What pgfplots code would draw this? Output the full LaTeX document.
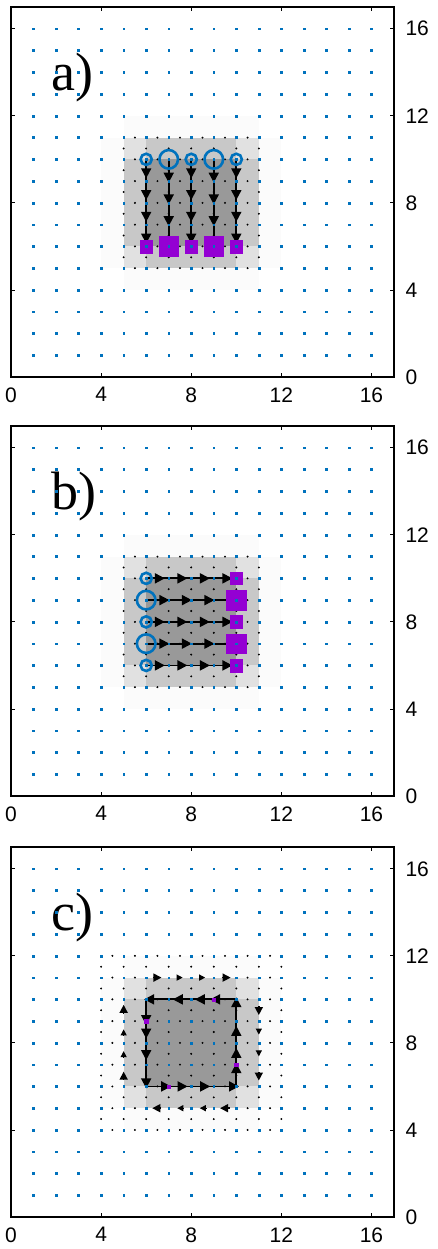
\documentclass[border=0pt]{standalone}
\usepackage{fontspec}
\setmainfont{Liberation Sans}
\newfontfamily\seriffont{Liberation Serif}
\usepackage{pgfplots}
\pgfplotsset{compat=1.18}
\usepackage{pgfplotstable}
\usetikzlibrary{arrows.meta}
\definecolor{mblue}{HTML}{0072BD}
\definecolor{mpurple}{HTML}{9400D3}
\definecolor{ga}{HTML}{999999}
\definecolor{gb}{HTML}{C8C8C8}
\definecolor{gc}{HTML}{E1E1E1}
\definecolor{gd}{HTML}{FBFBFB}

% integer lattice points (blue)
\pgfplotstableread[row sep=\\]{
x y\\
1 1\\1 2\\1 3\\1 4\\1 5\\1 6\\1 7\\1 8\\1 9\\1 10\\1 11\\1 12\\1 13\\1 14\\1 15\\1 16\\
2 1\\2 2\\2 3\\2 4\\2 5\\2 6\\2 7\\2 8\\2 9\\2 10\\2 11\\2 12\\2 13\\2 14\\2 15\\2 16\\
3 1\\3 2\\3 3\\3 4\\3 5\\3 6\\3 7\\3 8\\3 9\\3 10\\3 11\\3 12\\3 13\\3 14\\3 15\\3 16\\
4 1\\4 2\\4 3\\4 4\\4 5\\4 6\\4 7\\4 8\\4 9\\4 10\\4 11\\4 12\\4 13\\4 14\\4 15\\4 16\\
5 1\\5 2\\5 3\\5 4\\5 5\\5 6\\5 7\\5 8\\5 9\\5 10\\5 11\\5 12\\5 13\\5 14\\5 15\\5 16\\
6 1\\6 2\\6 3\\6 4\\6 5\\6 6\\6 7\\6 8\\6 9\\6 10\\6 11\\6 12\\6 13\\6 14\\6 15\\6 16\\
7 1\\7 2\\7 3\\7 4\\7 5\\7 6\\7 7\\7 8\\7 9\\7 10\\7 11\\7 12\\7 13\\7 14\\7 15\\7 16\\
8 1\\8 2\\8 3\\8 4\\8 5\\8 6\\8 7\\8 8\\8 9\\8 10\\8 11\\8 12\\8 13\\8 14\\8 15\\8 16\\
9 1\\9 2\\9 3\\9 4\\9 5\\9 6\\9 7\\9 8\\9 9\\9 10\\9 11\\9 12\\9 13\\9 14\\9 15\\9 16\\
10 1\\10 2\\10 3\\10 4\\10 5\\10 6\\10 7\\10 8\\10 9\\10 10\\10 11\\10 12\\10 13\\10 14\\10 15\\10 16\\
11 1\\11 2\\11 3\\11 4\\11 5\\11 6\\11 7\\11 8\\11 9\\11 10\\11 11\\11 12\\11 13\\11 14\\11 15\\11 16\\
12 1\\12 2\\12 3\\12 4\\12 5\\12 6\\12 7\\12 8\\12 9\\12 10\\12 11\\12 12\\12 13\\12 14\\12 15\\12 16\\
13 1\\13 2\\13 3\\13 4\\13 5\\13 6\\13 7\\13 8\\13 9\\13 10\\13 11\\13 12\\13 13\\13 14\\13 15\\13 16\\
14 1\\14 2\\14 3\\14 4\\14 5\\14 6\\14 7\\14 8\\14 9\\14 10\\14 11\\14 12\\14 13\\14 14\\14 15\\14 16\\
15 1\\15 2\\15 3\\15 4\\15 5\\15 6\\15 7\\15 8\\15 9\\15 10\\15 11\\15 12\\15 13\\15 14\\15 15\\15 16\\
16 1\\16 2\\16 3\\16 4\\16 5\\16 6\\16 7\\16 8\\16 9\\16 10\\16 11\\16 12\\16 13\\16 14\\16 15\\16 16\\
}\gridpts

% edge midpoints with (near) zero field (black dots)
\pgfplotstableread[row sep=\\]{
x y\\
5 5.5\\5 6.5\\5 7.5\\5 8.5\\5 9.5\\5 10.5\\
6 5.5\\6 6.5\\6 7.5\\6 8.5\\6 9.5\\6 10.5\\
7 5.5\\7 6.5\\7 7.5\\7 8.5\\7 9.5\\7 10.5\\
8 5.5\\8 6.5\\8 7.5\\8 8.5\\8 9.5\\8 10.5\\
9 5.5\\9 6.5\\9 7.5\\9 8.5\\9 9.5\\9 10.5\\
10 5.5\\10 6.5\\10 7.5\\10 8.5\\10 9.5\\10 10.5\\
11 5.5\\11 6.5\\11 7.5\\11 8.5\\11 9.5\\11 10.5\\
5.5 5\\5.5 6\\5.5 7\\5.5 8\\5.5 9\\5.5 10\\5.5 11\\
6.5 5\\6.5 6\\6.5 7\\6.5 8\\6.5 9\\6.5 10\\6.5 11\\
7.5 5\\7.5 6\\7.5 7\\7.5 8\\7.5 9\\7.5 10\\7.5 11\\
8.5 5\\8.5 6\\8.5 7\\8.5 8\\8.5 9\\8.5 10\\8.5 11\\
9.5 5\\9.5 6\\9.5 7\\9.5 8\\9.5 9\\9.5 10\\9.5 11\\
10.5 5\\10.5 6\\10.5 7\\10.5 8\\10.5 9\\10.5 10\\10.5 11\\
}\edgepts

\pgfplotstableread[row sep=\\]{
x y\\
4 4.5\\4 5.5\\4 6.5\\4 7.5\\4 8.5\\4 9.5\\4 10.5\\4 11.5\\
12 4.5\\12 5.5\\12 6.5\\12 7.5\\12 8.5\\12 9.5\\12 10.5\\12 11.5\\
5 4.5\\6 4.5\\7 4.5\\8 4.5\\9 4.5\\10 4.5\\11 4.5\\
5 11.5\\6 11.5\\7 11.5\\8 11.5\\9 11.5\\10 11.5\\11 11.5\\
4.5 4\\4.5 5\\4.5 6\\4.5 7\\4.5 8\\4.5 9\\4.5 10\\4.5 11\\4.5 12\\
11.5 4\\11.5 5\\11.5 6\\11.5 7\\11.5 8\\11.5 9\\11.5 10\\11.5 11\\11.5 12\\
5.5 4\\6.5 4\\7.5 4\\8.5 4\\9.5 4\\10.5 4\\
5.5 12\\6.5 12\\7.5 12\\8.5 12\\9.5 12\\10.5 12\\
}\edgeptsc

% panel a arrows (downwards)
\pgfplotstableread[row sep=\\]{
x y u v\\
6 10 0 -0.87\\6 9 0 -0.87\\6 8 0 -0.87\\6 7 0 -0.87\\
7 10 0 -1.07\\7 9 0 -1.07\\7 8 0 -1.07\\7 7 0 -1.07\\
8 10 0 -0.87\\8 9 0 -0.87\\8 8 0 -0.87\\8 7 0 -0.87\\
9 10 0 -1.07\\9 9 0 -1.07\\9 8 0 -1.07\\9 7 0 -1.07\\
10 10 0 -0.87\\10 9 0 -0.87\\10 8 0 -0.87\\10 7 0 -0.87\\
}\qa

% panel b arrows (rightwards)
\pgfplotstableread[row sep=\\]{
x y u v\\
6 10 0.83 0\\7 10 0.83 0\\8 10 0.83 0\\9 10 0.83 0\\
6 9 1.03 0\\7 9 1.03 0\\8 9 1.03 0\\9 9 1.03 0\\
6 8 0.83 0\\7 8 0.83 0\\8 8 0.83 0\\9 8 0.83 0\\
6 7 1.03 0\\7 7 1.03 0\\8 7 1.03 0\\9 7 1.03 0\\
6 6 0.83 0\\7 6 0.83 0\\8 6 0.83 0\\9 6 0.83 0\\
}\qb

% panel c loop arrows
\pgfplotstableread[row sep=\\]{
x y u v\\
10 10 -1.16 0\\9 10 -0.84 0\\8 10 -0.82 0\\7 10 -1.09 0\\
6 10 0 -1.18\\6 9 0 -0.80\\6 8 0 -0.79\\6 7 0 -1.09\\
6 6 1.11 0\\7 6 0.84 0\\8 6 0.84 0\\9 6 1.12 0\\
10 6 0 1.07\\10 7 0 0.77\\10 8 0 0.78\\10 9 0 1.10\\
}\qc

% panel c outer ring, end arrows
\pgfplotstableread[row sep=\\]{
x y u v\\
6.3 11 0.38 0\\9.35 11 0.4 0\\
11 9.7 0 -0.42\\11 6.65 0 -0.38\\
9.7 5 -0.42 0\\6.65 5 -0.38 0\\
5 6.3 0 0.38\\5 9.35 0 0.4\\
}\qcoe

% panel c outer ring, middle arrows
\pgfplotstableread[row sep=\\]{
x y u v\\
7.35 11 0.27 0\\8.35 11 0.27 0\\
11 8.65 0 -0.27\\11 7.65 0 -0.27\\
8.65 5 -0.27 0\\7.65 5 -0.27 0\\
5 7.35 0 0.27\\5 8.35 0 0.27\\
}\qcom

\pgfplotsset{panel/.style={
  scale only axis, width=383pt, height=370pt,
  xmin=0, xmax=17, ymin=0, ymax=17,
  xtick={0,4,8,12,16}, ytick={0,4,8,12,16},
  tick align=inside, major tick length=4pt,
  xtick pos=both, ytick pos=both,
  xticklabel pos=lower, yticklabel pos=right,
  axis line style={line width=1.3pt},
  every tick/.style={black, line width=0.8pt},
  ticklabel style={font=\fontsize{21}{23}\selectfont},
  xticklabel style={yshift=-7pt},
  yticklabel style={xshift=8pt},
  /pgf/number format/assume math mode=true,
  axis on top,
}}

\newcommand{\grays}{%
  \addplot[fill=gd, draw=none] coordinates {(4,5) (12,5) (12,11) (4,11)} -- cycle;
  \addplot[fill=gd, draw=none] coordinates {(5,4) (11,4) (11,12) (5,12)} -- cycle;
  \addplot[fill=gc, draw=none] coordinates {(5,5) (11,5) (11,11) (5,11)} -- cycle;
  \addplot[fill=gb, draw=none] coordinates {(5,6) (11,6) (11,10) (5,10)} -- cycle;
  \addplot[fill=gb, draw=none] coordinates {(6,5) (10,5) (10,11) (6,11)} -- cycle;
  \addplot[fill=ga, draw=none] coordinates {(6,6) (10,6) (10,10) (6,10)} -- cycle;
}
\newcommand{\bluedots}{%
  \addplot[only marks, mark=square*, mark size=0.9pt, mblue, mark options={draw=none, fill=mblue}] table[x=x,y=y] {\gridpts};
}
\newcommand{\blackdots}[1]{%
  \addplot[only marks, mark=*, mark size=0.75pt, black, mark options={draw=none, fill=black}] table[x=x,y=y] {#1};
}
\tikzset{bigarr/.style={black, line width=1.8pt, -{Triangle[length=10pt,width=10pt]}}}

\begin{document}
\begin{tikzpicture}
\path[use as bounding box] (0pt,0pt) rectangle (438pt,-1249pt);

% ---------------- a) ----------------
\begin{axis}[panel, at={(11pt,-7pt)}, anchor=north west]
\grays
\blackdots{\edgepts}
\addplot[black, line width=1.8pt] coordinates {(6,10) (6,6)};
\addplot[black, line width=1.8pt] coordinates {(7,10) (7,6)};
\addplot[black, line width=1.8pt] coordinates {(8,10) (8,6)};
\addplot[black, line width=1.8pt] coordinates {(9,10) (9,6)};
\addplot[black, line width=1.8pt] coordinates {(10,10) (10,6)};
\addplot[bigarr, quiver={u=\thisrow{u}, v=\thisrow{v}}] table[x=x,y=y] {\qa};
\addplot[only marks, mark=o, mark size=5.6pt, mblue, line width=2.6pt] coordinates {(6,10) (8,10) (10,10)};
\addplot[only marks, mark=o, mark size=9.3pt, mblue, line width=2.6pt] coordinates {(7,10) (9,10)};
\addplot[only marks, mark=square*, mark size=6.3pt, mpurple, mark options={draw=none, fill=mpurple}] coordinates {(6,6) (8,6) (10,6)};
\addplot[only marks, mark=square*, mark size=9.8pt, mpurple, mark options={draw=none, fill=mpurple}] coordinates {(7,6) (9,6)};
\bluedots
\node[anchor=base west, inner sep=0pt, font=\seriffont\fontsize{54}{60}\selectfont] at (axis cs:1.8,13.15) {a)};
\end{axis}

% ---------------- b) ----------------
\begin{axis}[panel, at={(11pt,-426pt)}, anchor=north west]
\grays
\blackdots{\edgepts}
\addplot[black, line width=1.8pt] coordinates {(6,10) (10,10)};
\addplot[black, line width=1.8pt] coordinates {(6,9) (10,9)};
\addplot[black, line width=1.8pt] coordinates {(6,8) (10,8)};
\addplot[black, line width=1.8pt] coordinates {(6,7) (10,7)};
\addplot[black, line width=1.8pt] coordinates {(6,6) (10,6)};
\addplot[bigarr, quiver={u=\thisrow{u}, v=\thisrow{v}}] table[x=x,y=y] {\qb};
\addplot[only marks, mark=o, mark size=5.6pt, mblue, line width=2.6pt] coordinates {(6,10) (6,8) (6,6)};
\addplot[only marks, mark=o, mark size=9.3pt, mblue, line width=2.6pt] coordinates {(6,9) (6,7)};
\addplot[only marks, mark=square*, mark size=6.3pt, mpurple, mark options={draw=none, fill=mpurple}] coordinates {(10,10) (10,8) (10,6)};
\addplot[only marks, mark=square*, mark size=9.8pt, mpurple, mark options={draw=none, fill=mpurple}] coordinates {(10,9) (10,7)};
\bluedots
\node[anchor=base west, inner sep=0pt, font=\seriffont\fontsize{54}{60}\selectfont] at (axis cs:1.8,13.15) {b)};
\end{axis}

% ---------------- c) ----------------
\begin{axis}[panel, at={(11pt,-847pt)}, anchor=north west]
\grays
\blackdots{\edgepts}
\blackdots{\edgeptsc}
\addplot[black, line width=1.8pt] coordinates {(6,6) (10,6) (10,10) (6,10) (6,6)};
\addplot[bigarr, quiver={u=\thisrow{u}, v=\thisrow{v}}] table[x=x,y=y] {\qc};
\addplot[black, line width=1.4pt, -{Triangle[length=8pt,width=8pt]}, quiver={u=\thisrow{u}, v=\thisrow{v}}] table[x=x,y=y] {\qcoe};
\addplot[black, line width=1.1pt, -{Triangle[length=6pt,width=6pt]}, quiver={u=\thisrow{u}, v=\thisrow{v}}] table[x=x,y=y] {\qcom};
\bluedots
\addplot[only marks, mark=square*, mark size=1.6pt, mpurple, mark options={draw=none, fill=mpurple}] coordinates {(6,9) (9,10) (7,6) (10,7)};
\node[anchor=base west, inner sep=0pt, font=\seriffont\fontsize{54}{60}\selectfont] at (axis cs:1.8,13.15) {c)};
\end{axis}
\end{tikzpicture}
\end{document}
